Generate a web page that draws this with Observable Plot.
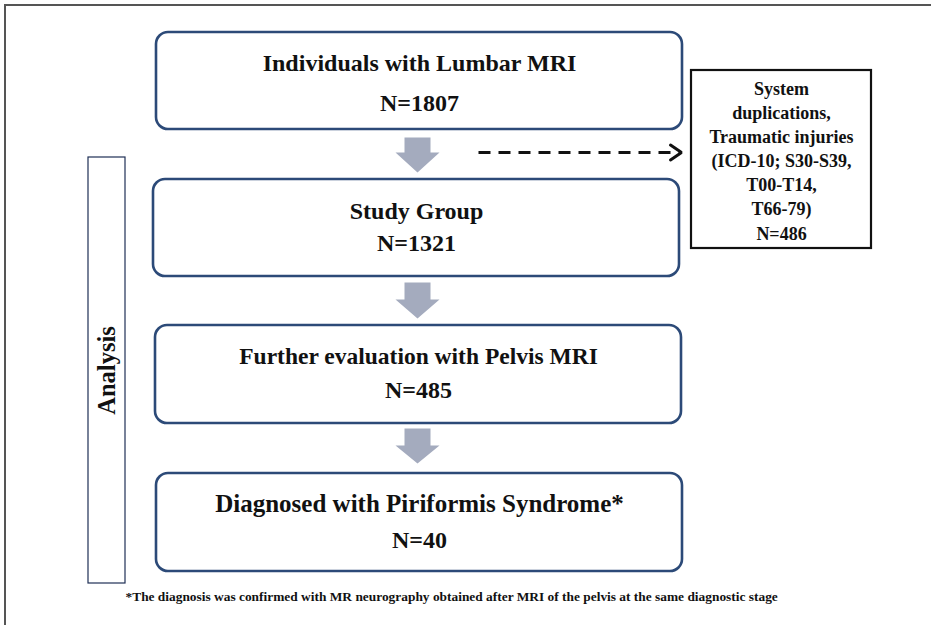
<!DOCTYPE html>
<html><head><meta charset="utf-8">
<script src="https://cdn.jsdelivr.net/npm/d3@7"></script>
<script src="https://cdn.jsdelivr.net/npm/@observablehq/plot@0.6"></script>
<style>html,body{margin:0;padding:0;background:#fff;overflow:hidden}</style>
</head><body><div id="chart"></div>
<script>
// ---- content ----
const stepLabels = ["Individuals with Lumbar MRI", "Study Group", "Further evaluation with Pelvis MRI", "Diagnosed with Piriformis Syndrome*"];
const stepCounts = [1807, 1321, 485, 40];
const excludedLines = ["System", "duplications,", "Traumatic injuries", "(ICD-10; S30-S39,", "T00-T14,", "T66-79)"];
const excludedCount = [486];
const sideLabel = ["Analysis"];
const footnote = ["*The diagnosis was confirmed with MR neurography obtained after MRI of the pelvis at the same diagnostic stage"];

// ---- layout (separate from data) ----
const boxX1 = [156, 153, 155, 156];
const boxX2 = [682, 679, 681, 682];
const boxY1 = [32, 179, 325, 473];
const boxY2 = [129, 276, 423, 571];
const labelY = [63, 211, 356, 503];
const countY = [103, 243, 390, 540];
const labelSize = [24, 24, 23.5, 25];
const arrowTop = [137, 282, 428];
const arrowNeck = [152, 299, 445];
const arrowTip = [172, 318, 463];
const arrowCx = 417;

const steps = stepLabels.map((label, i) => ({
  label, n: "N=" + stepCounts[i],
  x1: boxX1[i], x2: boxX2[i], y1: boxY1[i], y2: boxY2[i],
  cx: (boxX1[i] + boxX2[i]) / 2, ly: labelY[i], ny: countY[i], fs: labelSize[i]
}));

const arrowPts = [];
arrowTop.forEach((t, i) => {
  const h = arrowNeck[i], b = arrowTip[i], c = arrowCx, s = 13, w = 22;
  [[c - s, t], [c + s, t], [c + s, h], [c + w, h], [c, b], [c - w, h], [c - s, h], [c - s, t]]
    .forEach(([x, y]) => arrowPts.push({id: i, x, y}));
});

const side = {x1: 691, x2: 871, y1: 70, y2: 248};
const sideText = [{x: (side.x1 + side.x2) / 2, y: 159, t: [...excludedLines, "N=" + excludedCount[0]].join("\n")}];
const dashed = [{x1: 478, x2: 679, y: 152}];
const chevron = [{x: 670, y: 144.5}, {x: 681, y: 152}, {x: 670, y: 159.5}];
const analysisBox = [{x1: 88, x2: 125, y1: 157, y2: 583}];

const serif = "'Liberation Serif', 'Times New Roman', serif";
const navy = "#2c4a78";

const chart = Plot.plot({
  width: 931, height: 625,
  margin: 0,
  x: {type: "linear", domain: [0, 931], range: [0, 931], axis: null},
  y: {type: "linear", domain: [0, 625], range: [0, 625], axis: null},
  style: {fontFamily: serif, background: "#fff"},
  marks: [
    // outer frame (right/bottom edges lie outside the picture)
    Plot.rect([{x1: 5, x2: 990, y1: 5, y2: 690}], {x1: "x1", x2: "x2", y1: "y1", y2: "y2", fill: "none", stroke: "#555", strokeWidth: 2, clip: true}),
    // analysis bracket box
    Plot.rect(analysisBox, {x1: "x1", x2: "x2", y1: "y1", y2: "y2", fill: "none", stroke: "#1f2f55", strokeWidth: 1.2}),
    Plot.text(sideLabel, {x: 107, y: 370, text: d => d, rotate: -90, fontSize: 24.5, fontWeight: "bold", fill: "#111"}),
    // step boxes
    Plot.rect(steps, {x1: "x1", x2: "x2", y1: "y1", y2: "y2", rx: 12, fill: "#fff", stroke: navy, strokeWidth: 2.6}),
    Plot.text(steps, {x: "cx", y: "ly", text: "label", fontSize: d => d.fs, fontWeight: "bold", fill: "#111"}),
    Plot.text(steps, {x: "cx", y: "ny", text: "n", fontSize: 24, fontWeight: "bold", fill: "#111"}),
    // block arrows
    Plot.line(arrowPts, {x: "x", y: "y", z: "id", fill: "#a4abbe", stroke: "none"}),
    // excluded box
    Plot.rect([side], {x1: "x1", x2: "x2", y1: "y1", y2: "y2", fill: "#fff", stroke: "#111", strokeWidth: 2.2}),
    Plot.text(sideText, {x: "x", y: "y", text: "t", fontSize: 18, fontWeight: "bold", lineHeight: 1.34, fill: "#111"}),
    // dashed arrow
    Plot.link(dashed, {x1: "x1", x2: "x2", y1: "y", y2: "y", stroke: "#111", strokeWidth: 3, strokeDasharray: "12,8"}),
    Plot.line(chevron, {x: "x", y: "y", stroke: "#111", strokeWidth: 3, strokeLinejoin: "miter"}),
    // footnote
    Plot.text(footnote, {x: 125, y: 596, text: d => d, textAnchor: "start", fontSize: 13.4, fontWeight: "bold", fill: "#111"})
  ]
});
document.getElementById("chart").appendChild(chart);
</script>
</body></html>
